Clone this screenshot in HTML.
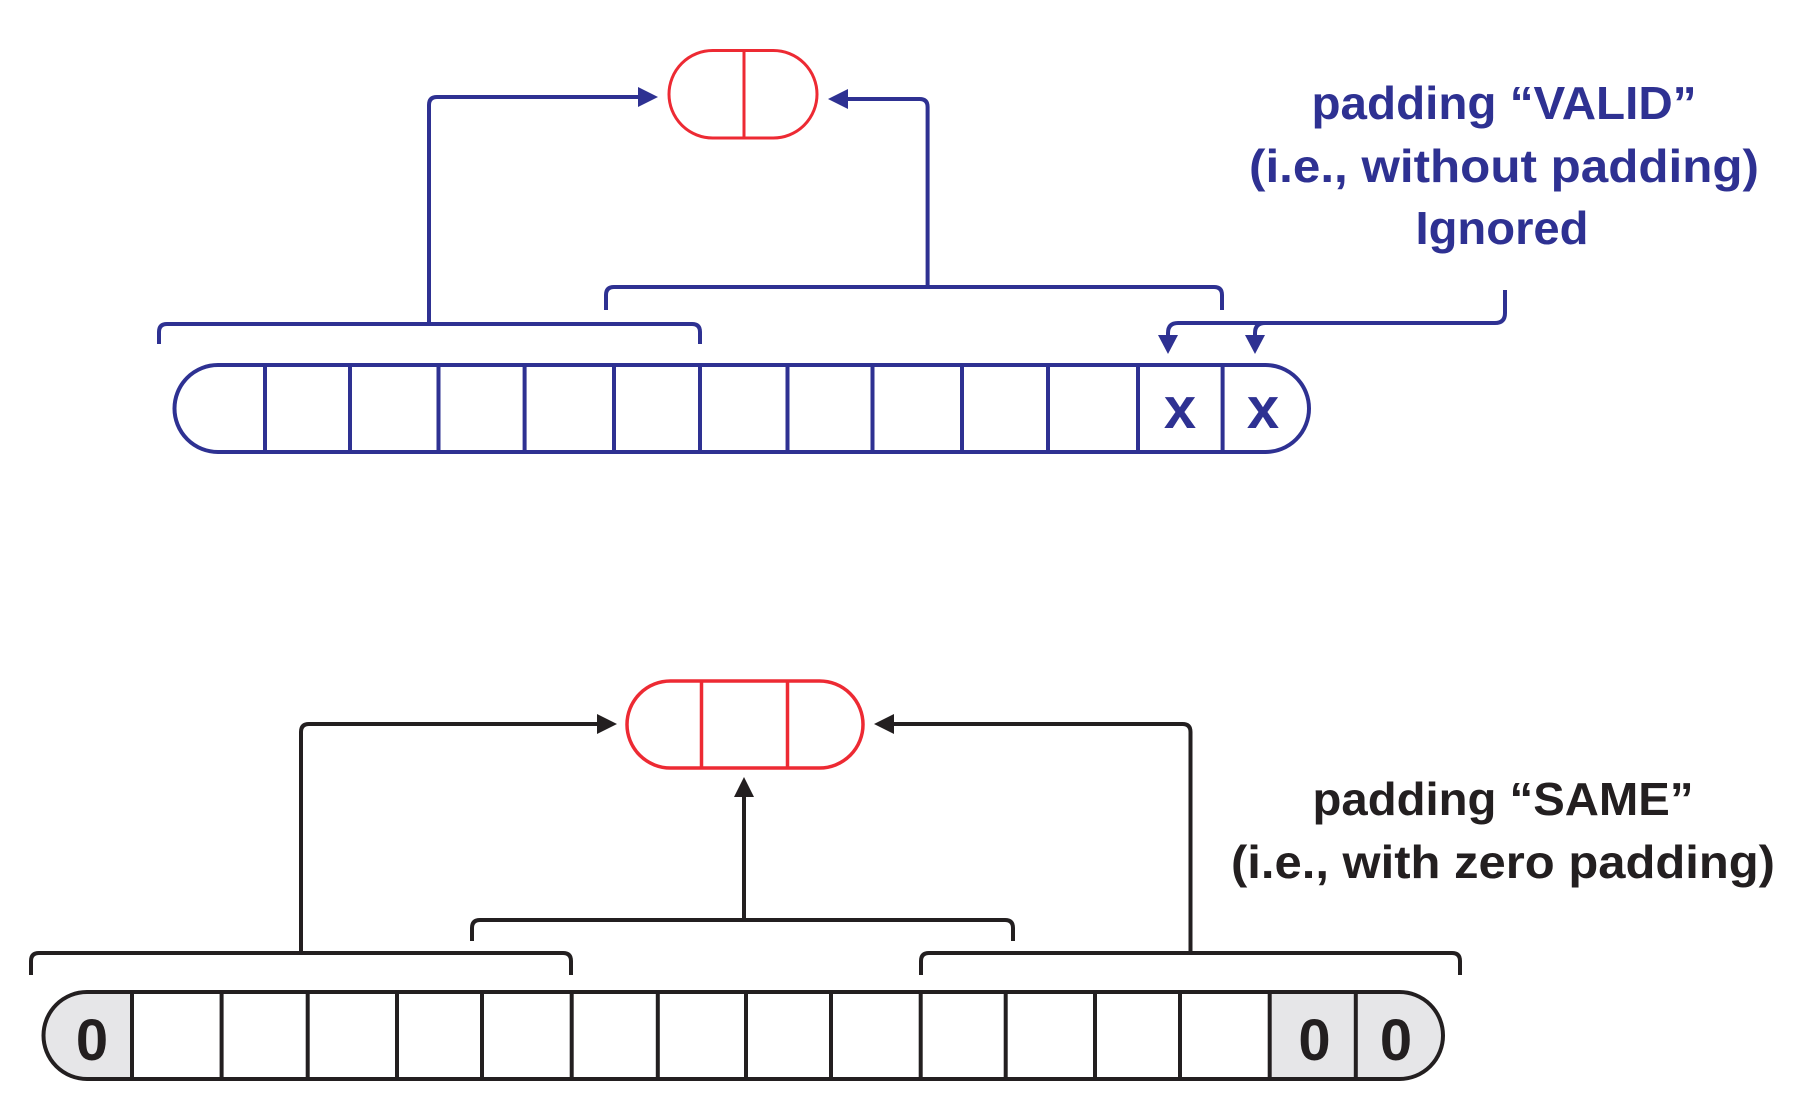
<!DOCTYPE html>
<html><head><meta charset="utf-8"><style>
html,body{margin:0;padding:0;background:#fff;width:1800px;height:1105px;overflow:hidden}
svg{display:block}
text{font-family:"Liberation Sans",sans-serif;font-weight:bold}
</style></head><body>
<svg width="1800" height="1105" viewBox="0 0 1800 1105" xmlns="http://www.w3.org/2000/svg">
<g fill="none" stroke="#2e3192" stroke-width="4" stroke-linejoin="round">
  <rect x="174.5" y="365" width="1134.5" height="87" rx="43.5"/>
  <path d="M265 365V452M350 365V452M438.5 365V452M524.6 365V452M614 365V452M700 365V452M787.5 365V452M872.5 365V452M962 365V452M1048 365V452M1138 365V452M1222.6 365V452"/>
  <path d="M159 344V332Q159 324 167 324H692Q700 324 700 332V344"/>
  <path d="M606 310V295Q606 287 614 287H1214Q1222 287 1222 295V310"/>
  <path d="M429 324V105Q429 97 437 97H642"/>
  <path d="M927.6 287V107Q927.6 99 919.6 99H845"/>
  <path d="M1505 290V313Q1505 323 1495 323H1178Q1168 323 1168 333V340"/>
  <path d="M1265 323Q1255 323 1255 333V340"/>
</g>
<g fill="#2e3192">
  <polygon points="658,97 638,87 638,107"/>
  <polygon points="828,99 848,89 848,109"/>
  <polygon points="1168,354 1158,335 1178,335"/>
  <polygon points="1255,354 1245,335 1265,335"/>
</g>
<g fill="none" stroke="#ed2a33" stroke-width="3">
  <rect x="669" y="50.5" width="148" height="87.5" rx="43.75"/>
  <path d="M744 50.5V138"/>
</g>
<g fill="#2e3192" text-anchor="middle">
  <text x="1180" y="428" font-size="58">x</text>
  <text x="1263" y="428" font-size="58">x</text>
  <text x="1504" y="119" font-size="46" textLength="385" lengthAdjust="spacingAndGlyphs">padding “VALID”</text>
  <text x="1504" y="182" font-size="46" textLength="510" lengthAdjust="spacingAndGlyphs">(i.e., without padding)</text>
  <text x="1502" y="244" font-size="46" textLength="173" lengthAdjust="spacingAndGlyphs">Ignored</text>
</g>
<g>
  <path d="M86.5 992H132V1079H86.5A43.5 43.5 0 0 1 86.5 992Z" fill="#e6e6e8"/>
  <path d="M1269.7 992H1399.5A43.5 43.5 0 0 1 1399.5 1079H1269.7Z" fill="#e6e6e8"/>
</g>
<g fill="none" stroke="#231f20" stroke-width="4" stroke-linejoin="round">
  <rect x="43.5" y="992" width="1399.5" height="87" rx="43.5"/>
  <path d="M132 992V1079M221.6 992V1079M307.7 992V1079M397 992V1079M482 992V1079M571.7 992V1079M657.8 992V1079M746 992V1079M831 992V1079M920.7 992V1079M1005.7 992V1079M1095 992V1079M1180 992V1079M1269.7 992V1079M1355.8 992V1079"/>
  <path d="M31 975V961Q31 953 39 953H563Q571 953 571 961V975"/>
  <path d="M472 941V928Q472 920 480 920H1005Q1013 920 1013 928V941"/>
  <path d="M921 975V961Q921 953 929 953H1452Q1460 953 1460 961V975"/>
  <path d="M301 953V732Q301 724 309 724H600"/>
  <path d="M1190.5 953V732Q1190.5 724 1182.5 724H892"/>
  <path d="M744 920V794"/>
</g>
<g fill="#231f20">
  <polygon points="617,724 597,714 597,734"/>
  <polygon points="874,724 894,714 894,734"/>
  <polygon points="744,777 734,797 754,797"/>
</g>
<g fill="none" stroke="#ed2a33" stroke-width="3.5">
  <rect x="627" y="681" width="236" height="87" rx="43.5"/>
  <path d="M701.5 681V768M787.5 681V768"/>
</g>
<g fill="#231f20" font-size="58" text-anchor="middle">
  <text x="92" y="1060">0</text>
  <text x="1314.5" y="1060">0</text>
  <text x="1396" y="1060">0</text>
</g>
<g fill="#231f20" font-size="46" text-anchor="middle">
  <text x="1503" y="815" textLength="381" lengthAdjust="spacingAndGlyphs">padding “SAME”</text>
  <text x="1503" y="878" textLength="544" lengthAdjust="spacingAndGlyphs">(i.e., with zero padding)</text>
</g>
</svg>
</body></html>
